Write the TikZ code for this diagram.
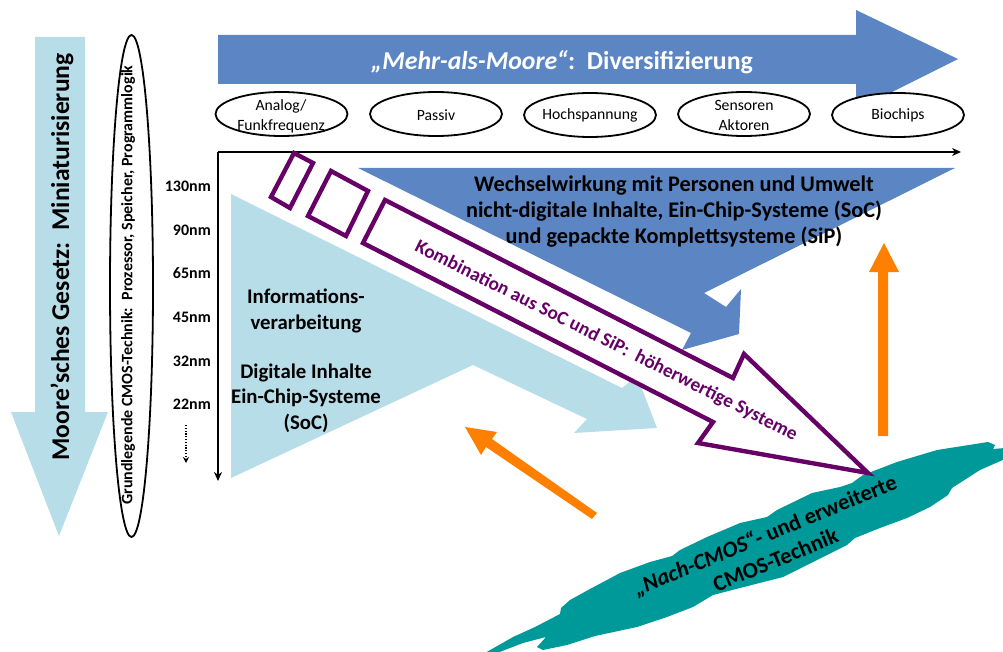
\documentclass[tikz,border=0pt]{standalone}
\usepackage{fontspec}
\setmainfont{Carlito}
\usetikzlibrary{arrows.meta}
\definecolor{lblue}{HTML}{B7DDE8}
\definecolor{dblue}{HTML}{5B85C3}
\definecolor{purp}{HTML}{660066}
\definecolor{orng}{HTML}{FF8000}
\definecolor{teal2}{HTML}{009999}
\tikzset{
  nmlabel/.style={anchor=east,inner sep=0pt,font=\bfseries\fontsize{16}{19}\selectfont},
  purpline/.style={draw=purp,line width=4.4pt,miter limit=10,line join=miter},
  bigtext/.style={font=\bfseries\fontsize{20.8}{25.5}\selectfont,align=center,inner sep=0pt},
  ovalshape/.style={line width=1.8pt,fill=white},
  ovaltext/.style={inner sep=0pt,align=center,font=\fontsize{15.7}{20}\selectfont},
}
\begin{document}
\begin{tikzpicture}[x=1pt,y=-1pt]
\useasboundingbox (0,0) rectangle (1003,652);
\clip (0,0) rectangle (1003,652);
% left arrow
\fill[lblue] (35,37)--(85,37)--(85,412)--(108,412)--(59,536)--(11,412)--(35,412)--cycle;
\node[rotate=90,inner sep=0pt,font=\bfseries\fontsize{25.6}{30}\selectfont] (moore) at (62,257) {Moore'sches Gesetz:\ \ Miniaturisierung};
% tall ellipse
\draw[ovalshape] (131.5,286) ellipse [x radius=21.5pt,y radius=251pt];
\node[rotate=90,inner sep=0pt,font=\bfseries\fontsize{16}{19}\selectfont] (cmos) at (128,285) {Grundlegende CMOS-Technik:\ \ Prozessor, Speicher, Programmlogik};
% top arrow
\fill[dblue] (218,35)--(856,35)--(856,10)--(958,59)--(856,110)--(856,84)--(218,84)--cycle;
\node[inner sep=0pt,text=white,font=\bfseries\fontsize{25.8}{30}\selectfont] (mehr) at (562,62) {\textit{„Mehr-als-Moore“}:\ \ Diversifizierung};
% ovals
\draw[ovalshape] (281.5,114) ellipse [x radius=66pt,y radius=22pt];
\draw[ovalshape] (436,114) ellipse [x radius=66pt,y radius=22pt];
\draw[ovalshape] (590,115) ellipse [x radius=66pt,y radius=22pt];
\draw[ovalshape] (744,114) ellipse [x radius=66pt,y radius=22pt];
\draw[ovalshape] (898,115) ellipse [x radius=66pt,y radius=22pt];
\node[ovaltext] (analog) at (281,116) {Analog/\\Funkfrequenz};
\node[ovaltext] (passiv) at (436,115) {Passiv};
\node[ovaltext] (hoch) at (590,115) {Hochspannung};
\node[ovaltext] (sensor) at (744,115) {Sensoren\\Aktoren};
\node[ovaltext] (bio) at (898,115) {Biochips};
% light blue shape
\fill[lblue] (231,194)--(622,388)--(637,376)--(657,428)--(574,433)--(587,419)--(473,365)--(231,478)--cycle;
% dark blue shape
\fill[dblue] (358,168)--(955,168)--(704,293)--(726,307)--(741,289)--(739,334)--(682,350)--(691,333)--cycle;
% axes
\coordinate (origin) at (218,152);
\coordinate (xend) at (961,152);
\coordinate (yend) at (218,481);
\draw[line width=1.8pt,-{Stealth[length=9pt,width=8pt]}] (origin)--(xend);
\draw[line width=1.8pt,-{Stealth[length=9pt,width=8pt]}] (origin)--(yend);
% teal blob
\fill[teal2] (485,653)--(513,637)--(535,627)--(560,614)--(561,608)--(570,600)--(590,589)--(620,573)--(650,562)--(672,556)--(680,550)--(707,537)--(740,523)--(767,517)--(777,510)--(812,493)--(840,487)--(852,483)--(863,475)--(897,462)--(937,450)--(988,442)--(995,445)--(993,449)--(1005,448)--(1005,459)--(980,470)--(952,488)--(948,495)--(930,507)--(907,518)--(880,528)--(855,538)--(847,545)--(813,562)--(783,577)--(740,588)--(713,595)--(693,607)--(667,617)--(637,627)--(595,636)--(567,645)--(543,650)--(537,647)--(546,637)--(523,643)--(497,653)--cycle;
% purple
\draw[purpline] (294,153)--(313,163)--(290,208)--(271,197)--cycle;
\draw[purpline] (331,171)--(368,191)--(346,236)--(308,216)--cycle;
\draw[purpline,fill=white] (385,200)--(733,378)--(744,354)--(868,473)--(698,443)--(713,422)--(363,243)--cycle;
\node[rotate=-26.6,inner sep=0pt,text=purp,font=\bfseries\fontsize{19.2}{22}\selectfont] (combo) at (606,341) {Kombination aus SoC und SiP:\ \ höherwertige Systeme};
% nm labels
\node[nmlabel] (n130) at (211,186) {130nm};
\node[nmlabel] (n90) at (211,230) {90nm};
\node[nmlabel] (n65) at (211,273) {65nm};
\node[nmlabel] (n45) at (211,317) {45nm};
\node[nmlabel] (n32) at (211,361) {32nm};
\node[nmlabel] (n22) at (211,404) {22nm};
\coordinate (dota) at (186,425);
\coordinate (dotb) at (186,463);
\draw[line width=1.2pt,dash pattern=on 1.2pt off 1.6pt,-{Stealth[length=6pt,width=6pt]}] (dota)--(dotb);
% texts
\node[bigtext] (info) at (306,311) {Informations-\\verarbeitung};
\node[bigtext] (digi) at (306,398) {Digitale Inhalte\\Ein-Chip-Systeme\\(SoC)};
\node[bigtext,font=\bfseries\fontsize{22.3}{26}\selectfont] (wech) at (674,212) {Wechselwirkung mit Personen und Umwelt\\nicht-digitale Inhalte, Ein-Chip-Systeme (SoC)\\und gepackte Komplettsysteme (SiP)};
% orange arrows
\fill[orng] (878,436)--(888,436)--(888,272)--(899,272)--(884,243)--(869,272)--(878,272)--cycle;
\fill[orng] (597,513)--(592,519)--(486,447)--(481,455)--(465,427)--(497,432)--(492,439)--cycle;
\node[rotate=22.5,inner sep=0pt,align=center,font=\bfseries\fontsize{22.5}{27}\selectfont] (nach) at (770,547) {\textit{„Nach-CMOS“}- und erweiterte\\CMOS-Technik};
\end{tikzpicture}
\end{document}
